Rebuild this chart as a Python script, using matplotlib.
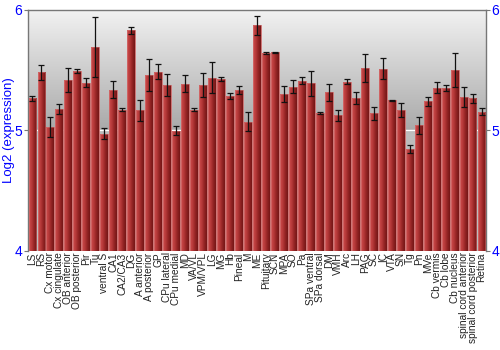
import numpy as np
import matplotlib
matplotlib.use("Agg")
import matplotlib.pyplot as plt
from matplotlib.colors import LinearSegmentedColormap

categories = ["LS", "RS", "Cx motor", "Cx cingulate", "OB anterior", "OB posterior", "Pir", "Tu",
              "ventral S", "CA1", "CA2/CA3", "DG", "A anterior", "A posterior", "GP", "CPu lateral",
              "CPu medial", "MD", "VA/VL", "VPM/VPL", "LG", "MG", "Hb", "Pineal", "M", "ME",
              "Pituitary", "SCN", "MPA", "SO", "Pa", "SPa ventral", "SPa dorsal", "DM", "VMH", "Arc",
              "LH", "PAG", "SC", "IC", "VTA", "SN", "Tg", "Pn", "MVe", "Cb vermis", "Cb lobe",
              "Cb nucleus", "spinal cord anterior", "spinal cord posterior", "Retina"]
values = [5.267, 5.48, 5.026, 5.178, 5.416, 5.494, 5.397, 5.693,
          4.971, 5.336, 5.173, 5.831, 5.165, 5.46, 5.488, 5.378,
          4.998, 5.386, 5.173, 5.375, 5.438, 5.427, 5.284, 5.334, 5.071, 5.87,
          5.643, 5.646, 5.30, 5.361, 5.411, 5.392, 5.143, 5.317, 5.126, 5.403,
          5.27, 5.521, 5.143, 5.513, 5.248, 5.17, 4.843, 5.043, 5.242, 5.353, 5.35,
          5.50, 5.278, 5.267, 5.156]
errors = [0.02, 0.065, 0.083, 0.04, 0.10, 0.015, 0.04, 0.25,
          0.045, 0.07, 0.01, 0.03, 0.09, 0.13, 0.06, 0.09,
          0.04, 0.07, 0.01, 0.097, 0.126, 0.015, 0.026, 0.03, 0.08, 0.079,
          0.011, 0.007, 0.066, 0.053, 0.029, 0.104, 0.011, 0.07, 0.046, 0.022,
          0.048, 0.116, 0.055, 0.086, 0.005, 0.057, 0.032, 0.069, 0.037, 0.047, 0.026,
          0.138, 0.083, 0.036, 0.032]
yticks = [4, 5, 6]
ylabel = "Log2 (expression)"

plt.rcParams['font.family'] = ['Liberation Sans', 'DejaVu Sans']

fig = plt.figure(figsize=(5.0, 3.5), dpi=100)
ax = fig.add_axes([0.056, 0.283, 0.916, 0.689])

n = len(categories)
x = np.arange(n)

# background gradient (top light -> darker toward the middle)
bg = LinearSegmentedColormap.from_list("bg", [(0.0, "#f2f2f2"), (0.5, "#a9a9a9"), (0.51, "#bdbdbd"), (1.0, "#bdbdbd")])
grad = np.linspace(0, 1, 256).reshape(-1, 1)
ax.imshow(grad, cmap=bg, aspect="auto", extent=(-0.5, n - 0.5, 4, 6), origin="upper",
          zorder=0, interpolation="bicubic")

ax.axhline(5, color="white", lw=1.0, zorder=1)

bars = ax.bar(x, [v - 4 for v in values], bottom=4, width=0.88, color="#a83232",
              edgecolor="#c86a6a", linewidth=0.5, zorder=2)

barcm = LinearSegmentedColormap.from_list("bar", ["#cc4c4c", "#b83a3a", "#932424", "#741616"])
hgrad = np.linspace(0, 1, 64).reshape(1, -1)
for b in bars:
    x0 = b.get_x(); w = b.get_width()
    im = ax.imshow(hgrad, cmap=barcm, aspect="auto",
                   extent=(x0, x0 + w, 4, 4 + b.get_height()), zorder=3, interpolation="bilinear")
    im.set_clip_path(b)
    ax.add_patch(plt.Rectangle((x0, 4), w, b.get_height(), fill=False,
                               edgecolor="#d88080", linewidth=0.5, alpha=0.7, zorder=4))

ax.errorbar(x, values, yerr=errors, fmt="none", ecolor="#111111", elinewidth=0.9,
            capsize=2.0, capthick=0.9, zorder=5)

ax.set_xlim(-0.5, n - 0.5)
ax.set_ylim(4, 6)
ax.set_xticks(x)
ax.set_xticklabels(categories, rotation=90, fontsize=7.3, color="#222222")
ax.tick_params(axis="x", length=0, pad=1)
ax.set_yticks(yticks)
ax.set_yticklabels([str(t) for t in yticks], fontsize=10)
ax.tick_params(axis="y", length=3, color="#777777", pad=1, labelcolor="#0000ff",
               right=True, labelright=True, direction="out")
ax.set_ylabel(ylabel, color="#0000ff", fontsize=9.5)
ax.yaxis.set_label_coords(-0.029, 0.5)

for s in ["left", "right", "top"]:
    ax.spines[s].set_color("#777777")
    ax.spines[s].set_linewidth(1.0)
ax.spines["bottom"].set_visible(False)

fig.savefig("out.png", dpi=100)
